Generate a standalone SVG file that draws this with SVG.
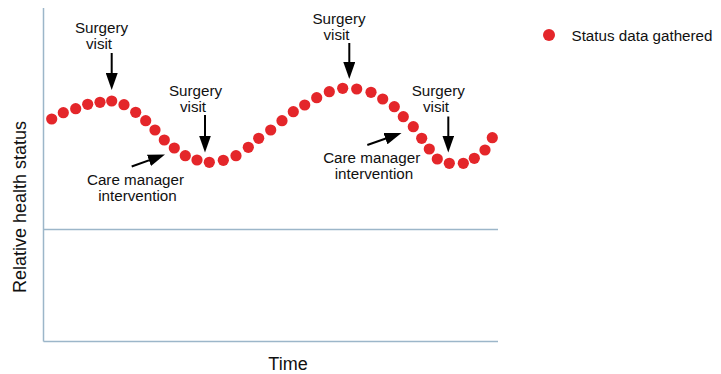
<svg xmlns="http://www.w3.org/2000/svg" width="721" height="374" viewBox="0 0 721 374">
<style>
.axis{stroke:#9cb6c9;stroke-width:1.5;fill:none}
.dot{fill:#e4262a}
.lbl{font-family:"Liberation Sans",Arial,sans-serif;font-size:15.2px;fill:#111;text-anchor:middle}
.big{font-family:"Liberation Sans",Arial,sans-serif;font-size:18px;fill:#111;text-anchor:middle}
.arr{stroke:#000;stroke-width:2;fill:none;marker-end:url(#ah)}
</style>
<defs>
<marker id="ah" markerUnits="userSpaceOnUse" markerWidth="17" markerHeight="12" refX="8" refY="6" orient="auto">
<path d="M0,0 L17,6 L0,12 z" fill="#000"/>
</marker>
</defs>
<rect width="721" height="374" fill="#fff"/>
<g id="axes">
<line class="axis" x1="43.5" y1="8" x2="43.5" y2="341.5"/>
<line class="axis" x1="43.5" y1="341.5" x2="498" y2="341.5"/>
<line class="axis" x1="43.5" y1="229.5" x2="498" y2="229.5"/>
<text class="big" transform="translate(26,207) rotate(-90)">Relative health status</text>
<text class="big" x="288" y="370">Time</text>
</g>
<g id="data">
<circle class="dot" cx="51.7" cy="119" r="5.6"/>
<circle class="dot" cx="63.3" cy="112.7" r="5.6"/>
<circle class="dot" cx="75.7" cy="108.7" r="5.6"/>
<circle class="dot" cx="87.7" cy="104.3" r="5.6"/>
<circle class="dot" cx="100" cy="102.3" r="5.6"/>
<circle class="dot" cx="111.7" cy="101" r="5.6"/>
<circle class="dot" cx="124" cy="104.7" r="5.6"/>
<circle class="dot" cx="135.7" cy="112.3" r="5.6"/>
<circle class="dot" cx="145.7" cy="120.7" r="5.6"/>
<circle class="dot" cx="155" cy="130" r="5.6"/>
<circle class="dot" cx="164.3" cy="140" r="5.6"/>
<circle class="dot" cx="174.3" cy="148" r="5.6"/>
<circle class="dot" cx="185.3" cy="155.7" r="5.6"/>
<circle class="dot" cx="197" cy="160" r="5.6"/>
<circle class="dot" cx="209.3" cy="162.3" r="5.6"/>
<circle class="dot" cx="223.3" cy="160.3" r="5.6"/>
<circle class="dot" cx="236" cy="155.7" r="5.6"/>
<circle class="dot" cx="248.3" cy="147.3" r="5.6"/>
<circle class="dot" cx="258.7" cy="138.3" r="5.6"/>
<circle class="dot" cx="270.7" cy="130" r="5.6"/>
<circle class="dot" cx="282" cy="120.7" r="5.6"/>
<circle class="dot" cx="293.3" cy="111.7" r="5.6"/>
<circle class="dot" cx="304.7" cy="105" r="5.6"/>
<circle class="dot" cx="316.7" cy="97.7" r="5.6"/>
<circle class="dot" cx="329.3" cy="91.7" r="5.6"/>
<circle class="dot" cx="342.7" cy="88.3" r="5.6"/>
<circle class="dot" cx="356.7" cy="89" r="5.6"/>
<circle class="dot" cx="371" cy="92.3" r="5.6"/>
<circle class="dot" cx="382.7" cy="99" r="5.6"/>
<circle class="dot" cx="394.3" cy="106.7" r="5.6"/>
<circle class="dot" cx="403.3" cy="116.7" r="5.6"/>
<circle class="dot" cx="413.3" cy="126.7" r="5.6"/>
<circle class="dot" cx="421.7" cy="138.3" r="5.6"/>
<circle class="dot" cx="429.3" cy="149" r="5.6"/>
<circle class="dot" cx="437.3" cy="159" r="5.6"/>
<circle class="dot" cx="449.3" cy="163.3" r="5.6"/>
<circle class="dot" cx="463.3" cy="163.3" r="5.6"/>
<circle class="dot" cx="474.3" cy="158.3" r="5.6"/>
<circle class="dot" cx="485" cy="150" r="5.6"/>
<circle class="dot" cx="492.3" cy="137.7" r="5.6"/>
</g>
<g id="connectors">
<line class="arr" x1="111.7" y1="53" x2="111.7" y2="81"/>
<line class="arr" x1="205" y1="115" x2="205" y2="143.5"/>
<line class="arr" x1="349.3" y1="43" x2="349.3" y2="70"/>
<line class="arr" x1="448.3" y1="116.5" x2="448.3" y2="143.5"/>
<line class="arr" x1="131.7" y1="166.5" x2="156.5" y2="157.6"/>
<line class="arr" x1="367.3" y1="145" x2="393" y2="136"/>
</g>
<g id="label-surgery-1">
<text class="lbl" x="101.5" y="33">Surgery</text>
<text class="lbl" x="99" y="49">visit</text>
</g>
<g id="label-surgery-2">
<text class="lbl" x="195.5" y="95.5">Surgery</text>
<text class="lbl" x="193" y="111.5">visit</text>
</g>
<g id="label-surgery-3">
<text class="lbl" x="339" y="23.5">Surgery</text>
<text class="lbl" x="336.5" y="39.5">visit</text>
</g>
<g id="label-surgery-4">
<text class="lbl" x="438.3" y="96">Surgery</text>
<text class="lbl" x="436" y="112">visit</text>
</g>
<g id="label-care-1">
<text class="lbl" x="135.5" y="184.5">Care manager</text>
<text class="lbl" x="137.5" y="200.5">intervention</text>
</g>
<g id="label-care-2">
<text class="lbl" x="371.7" y="162.8">Care manager</text>
<text class="lbl" x="374" y="178.8">intervention</text>
</g>
<g id="legend">
<circle class="dot" cx="549" cy="35" r="6"/>
<text class="lbl" x="571.5" y="40.5" style="text-anchor:start">Status data gathered</text>
</g>
</svg>
